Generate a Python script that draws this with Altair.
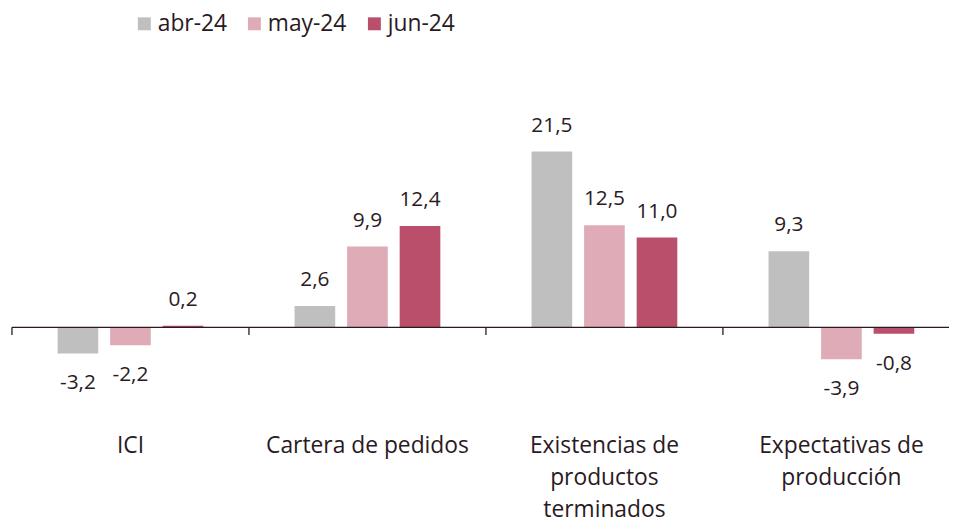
import altair as alt
import pandas as pd

categories = ["ICI", "Cartera de pedidos", "Existencias de\nproductos\nterminados", "Expectativas de\nproducción"]
series = ["abr-24", "may-24", "jun-24"]
abr = [-3.2, 2.6, 21.5, 9.3]
may = [-2.2, 9.9, 12.5, -3.9]
jun = [0.2, 12.4, 11.0, -0.8]
colors = ["#bfbfbf", "#dfabb7", "#b94f6a"]

rows = []
for s, vals in zip(series, [abr, may, jun]):
    for c, v in zip(categories, vals):
        rows.append({"cat": c, "serie": s, "value": v})
df = pd.DataFrame(rows)
cat_df = pd.DataFrame({"cat": categories})

FONT = "Open Sans"
FS = 21
FS_CAT = 23
TXT = "#2a1a1f"

x_enc = alt.X("cat:N", sort=categories,
              scale=alt.Scale(range=[4, 960], paddingInner=0, paddingOuter=0),
              axis=alt.Axis(title=None, domain=False, ticks=False, labelAngle=0,
                            labelPadding=34, labelFontSize=FS_CAT, labelFont=FONT,
                            labelColor=TXT, labelLimit=400, labelLineHeight=32.5,
                            labelExpr="split(datum.label, '\\n')"))
y_scale = alt.Scale(domain=[-9, 38.8], nice=False, zero=True)
xoff = alt.XOffset("serie:N", sort=series,
                   scale=alt.Scale(paddingInner=0.2264, paddingOuter=0.868))

base = alt.Chart(df).transform_calculate(
    label="replace(replace(format(datum.value, '.1f'), '.', ','), '\u2212', '-')"
)

bars = base.mark_bar().encode(
    x=x_enc,
    xOffset=xoff,
    y=alt.Y("value:Q", scale=y_scale, axis=None),
    color=alt.Color("serie:N", sort=series,
                    scale=alt.Scale(domain=series, range=colors),
                    legend=alt.Legend(title=None, orient="none", direction="horizontal",
                                      legendX=126, legendY=2, symbolType="square",
                                      symbolSize=170, symbolStrokeWidth=0,
                                      labelFontSize=FS_CAT, labelFont=FONT, labelColor=TXT,
                                      labelOffset=2, columnPadding=16, padding=0)),
)

pos_text = base.transform_filter("datum.value >= 0").mark_text(
    dy=-26, fontSize=FS, font=FONT, color=TXT, baseline="middle"
).encode(x=alt.X("cat:N", sort=categories), xOffset=alt.XOffset("serie:N", sort=series),
         y=alt.Y("value:Q"), text="label:N")

neg_text = base.transform_filter("datum.value < 0").mark_text(
    dy=30, fontSize=FS, font=FONT, color=TXT, baseline="middle"
).encode(x=alt.X("cat:N", sort=categories), xOffset=alt.XOffset("serie:N", sort=series),
         y=alt.Y("value:Q"), text="label:N")

zero_line = alt.Chart(alt.Data(values=[{"z": 0}])).mark_rule(
    color=TXT, strokeWidth=1.3
).encode(y=alt.Y("z:Q"), x=alt.value(4), x2=alt.value(949))

ticks = alt.Chart(cat_df).mark_rule(color=TXT, strokeWidth=1.3).encode(
    x=alt.X("cat:N", sort=categories, bandPosition=0),
    y=alt.datum(0),
    y2=alt.datum(-0.95),
)

chart = alt.layer(bars, zero_line, ticks, pos_text, neg_text).properties(
    width=949, height=394,
    autosize=alt.AutoSizeParams(type="none"),
    padding={"left": 0, "right": 0, "top": 0, "bottom": 122},
).configure_view(stroke=None)

chart.save("out.html", embed_options={"renderer": "svg", "actions": False})
